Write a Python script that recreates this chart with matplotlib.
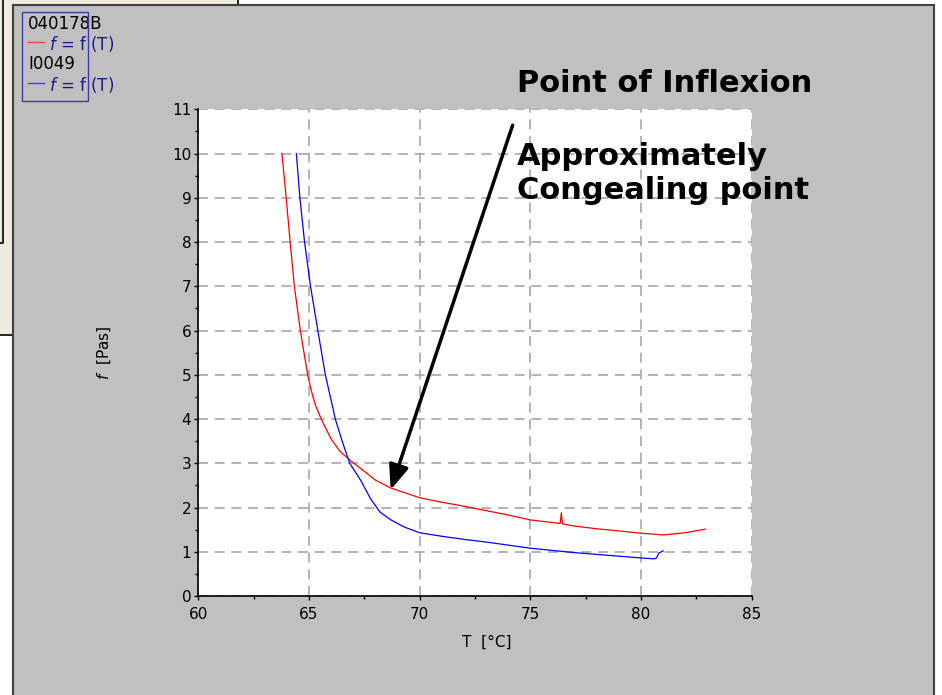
import matplotlib.pyplot as plt
from matplotlib.patches import Rectangle
from matplotlib.lines import Line2D

# viscosity f = f(T), two samples
sample_names = ['040178B', 'I0049']

T_040178B = [63.78, 63.97, 64.15, 64.34, 64.61, 64.94, 65.1, 65.3, 65.6, 66.0, 66.4,
             66.9, 67.5, 68.0, 68.7, 70.0, 71.0, 72.0, 73.0, 74.0, 75.0,
             76.0, 76.35, 76.4, 76.45, 77.0, 78.0, 79.0, 80.0, 81.0, 82.0, 82.9]
f_040178B = [10.0, 9.0, 8.0, 7.0, 6.0, 5.0, 4.65, 4.3, 3.95, 3.55, 3.27,
             3.05, 2.82, 2.62, 2.44, 2.22, 2.12, 2.03, 1.93, 1.83, 1.72,
             1.66, 1.64, 1.88, 1.63, 1.58, 1.52, 1.47, 1.42, 1.38, 1.43, 1.51]

T_I0049 = [64.43, 64.59, 64.8, 65.07, 65.4, 65.74, 66.19, 66.5, 66.84, 67.33,
           67.78, 68.2, 68.7, 69.3, 70.0, 71.0, 72.0, 73.0, 74.0, 75.0,
           76.0, 77.0, 78.0, 79.0, 80.0, 80.6, 80.7, 80.8, 81.0]
f_I0049 = [10.0, 9.0, 8.0, 7.0, 6.0, 5.0, 4.0, 3.5, 3.0, 2.62,
           2.2, 1.9, 1.72, 1.56, 1.43, 1.35, 1.28, 1.22, 1.15, 1.08,
           1.03, 0.98, 0.94, 0.90, 0.86, 0.84, 0.86, 0.97, 1.02]

# point of inflexion (arrow tip) and arrow tail
inflex_T, inflex_f = 68.69, 2.40
tail_T, tail_f = 74.2, 10.64

W, H = 942, 695
def px(x):
    return x / W
def py(y):
    return 1 - y / H

plt.rcParams['font.family'] = 'DejaVu Sans'
plt.rcParams['mathtext.fontset'] = 'dejavusans'

fig = plt.figure(figsize=(W / 100, H / 100), dpi=100, facecolor='white')

# background panels
fig.add_artist(Rectangle((px(-10), py(335)), px(248), 345 / H, transform=fig.transFigure,
                         facecolor='#eeebe1', edgecolor='black', lw=1.2, zorder=0))
fig.add_artist(Line2D([px(3), px(3), px(-5)], [py(-5), py(243), py(243)],
                      transform=fig.transFigure, color='black', lw=1.2, zorder=0.5))
fig.add_artist(Rectangle((px(13), py(700)), px(934 - 13), 695 / H, transform=fig.transFigure,
                         facecolor='#c0c0c0', edgecolor='#404040', lw=1.5, zorder=1))

ax = fig.add_axes([px(198.3), py(596), px(751.7 - 198.3), (596 - 109.3) / H])
ax.set_zorder(2)
ax.set_facecolor('white')

ax.plot(T_040178B, f_040178B, color='#ff0000', lw=0.9)
ax.plot(T_I0049, f_I0049, color='#0000ff', lw=0.9)

ax.set_xlim(60, 85)
ax.set_ylim(0, 11)
ax.set_xticks(range(60, 86, 5))
ax.set_xticks([62.5, 67.5, 72.5, 77.5, 82.5], minor=True)
ax.set_yticks(range(0, 12))
ax.set_yticks([i + 0.5 for i in range(11)], minor=True)
ax.tick_params(axis='both', which='major', length=3, width=1, labelsize=11, color='black')
ax.tick_params(axis='both', which='minor', length=2.5, width=1, color='black')
ax.tick_params(axis='x', pad=5)
ax.tick_params(axis='y', pad=2)
ax.grid(True, which='major', color='#a8a8a8', linestyle=(0, (6, 4)), lw=1.2)
for side in ['top', 'right']:
    ax.spines[side].set_visible(False)
for side in ['left', 'bottom']:
    ax.spines[side].set_color('black')
    ax.spines[side].set_linewidth(1.2)

ax.set_xlabel('T  [°C]', fontsize=11, va='center')
ax.xaxis.set_label_coords(0.522, -0.0945)
ax.set_ylabel('$f$  [Pas]', fontsize=11, va='center', ha='center')
ax.yaxis.set_label_coords(-0.170, 0.5)

# arrow to point of inflexion
ax.annotate('', xy=(inflex_T, inflex_f), xytext=(tail_T, tail_f),
            annotation_clip=False,
            arrowprops=dict(arrowstyle='-|>,head_length=0.75,head_width=0.3',
                            color='black', lw=2.5, mutation_scale=20,
                            shrinkA=0, shrinkB=0))

fig.text(px(517), py(83), 'Point of Inflexion', fontsize=22, fontweight='bold',
         ha='left', va='center', zorder=5)
fig.text(px(517), py(173.5), 'Approximately\nCongealing point', fontsize=22,
         fontweight='bold', ha='left', va='center', linespacing=1.2, zorder=5)

# legend box
navy = '#1a1a8c'
fig.add_artist(Rectangle((px(22), py(101)), px(88 - 22), (101 - 12) / H,
                         transform=fig.transFigure, facecolor='none',
                         edgecolor='#3a3aa8', lw=1, zorder=6))
rows = [(sample_names[0], 24, 44, '#ff4040'), (sample_names[1], 64, 85, '#4040ff')]
for name, y_name, y_line, col in rows:
    fig.text(px(28), py(y_name), name, fontsize=12, color='black', ha='left', va='center', zorder=5)
    fig.add_artist(Line2D([px(28), px(44)], [py(y_line - 2), py(y_line - 2)],
                          transform=fig.transFigure, color=col, lw=1, zorder=5))
    fig.text(px(49), py(y_line), '$f$ = f (T)', fontsize=12, color=navy, ha='left', va='center', zorder=5)

fig.savefig('out.png', dpi=100, facecolor=fig.get_facecolor())
